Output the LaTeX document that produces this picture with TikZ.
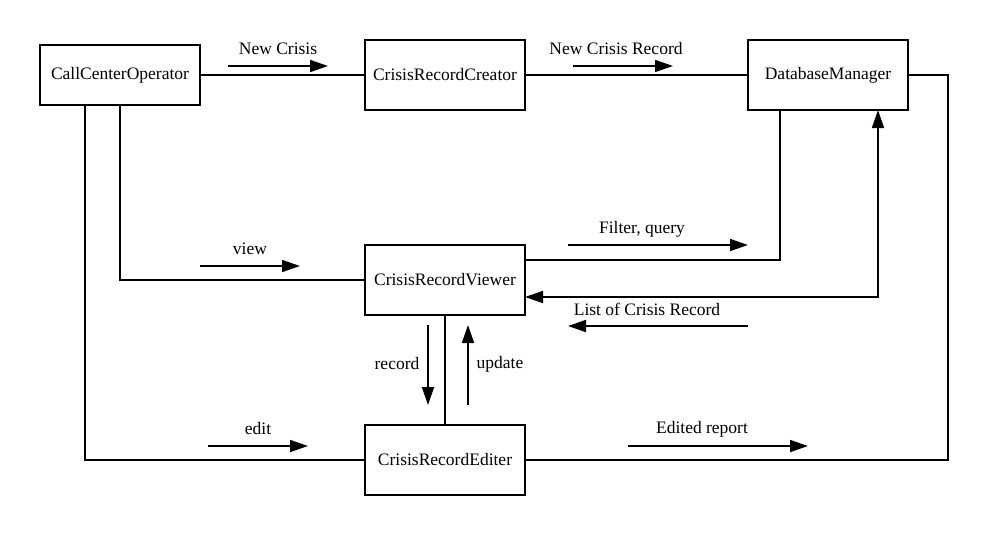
\documentclass[tikz,border=0pt]{standalone}
\usepackage{fontspec}
\setmainfont{Liberation Serif}
\usetikzlibrary{arrows.meta}
\begin{document}
\begin{tikzpicture}[x=1pt,y=-1pt,
  box/.style={draw,line width=1.6pt,minimum width=160pt,minimum height=70pt,inner sep=0pt,font=\fontsize{17.5}{20}\selectfont},
  wire/.style={line width=1.6pt},
  flow/.style={line width=1.6pt,-{Triangle[length=18pt,width=12pt]}},
  lbl/.style={font=\fontsize{17.5}{20}\selectfont,inner sep=0pt}]
\useasboundingbox (0,0) rectangle (989,536);
\node[box,minimum height=60pt] (cco) at (120,75) {CallCenterOperator};
\node[box] (crc) at (445,75) {CrisisRecordCreator};
\node[box] (dm) at (828,75) {DatabaseManager};
\node[box] (crv) at (445,280) {CrisisRecordViewer};
\node[box] (cre) at (445,460) {CrisisRecordEditer};
% connectors
\draw[wire] (cco.east) -- (crc.west);
\draw[wire] (crc.east) -- (dm.west);
\coordinate (r1) at (948,75);
\coordinate (r2) at (948,460);
\draw[wire] (dm.east) -- (r1) -- (r2) -- (cre.east);
\coordinate (v1) at (120,280);
\draw[wire] (cco.south) -- (v1) -- (crv.west);
\coordinate (e0) at (85,105);
\coordinate (e1) at (85,460);
\draw[wire] (e0) -- (e1) -- (cre.west);
\coordinate (f0) at (525,260);
\coordinate (f1) at (780,260);
\coordinate (f2) at (780,110);
\draw[wire] (f0) -- (f1) -- (f2);
\coordinate (l0) at (878,110);
\coordinate (l1) at (878,297);
\coordinate (l2) at (525,297);
\draw[wire,{Triangle[length=18pt,width=12pt]}-{Triangle[length=18pt,width=12pt]}] (l0) -- (l1) -- (l2);
\draw[wire] (crv.south) -- (cre.north);
% flow arrows
\coordinate (a1) at (228,66); \coordinate (b1) at (328,66);
\draw[flow] (a1) -- (b1);
\node[lbl] (t1) at (278,49) {New Crisis};
\coordinate (a2) at (573,66); \coordinate (b2) at (673,66);
\draw[flow] (a2) -- (b2);
\node[lbl] (t2) at (616,49) {New Crisis Record};
\coordinate (a3) at (568,245); \coordinate (b3) at (748,245);
\draw[flow] (a3) -- (b3);
\node[lbl] (t3) at (642,229) {Filter, query};
\coordinate (a4) at (200,266); \coordinate (b4) at (300,266);
\draw[flow] (a4) -- (b4);
\node[lbl] (t4) at (250,249) {view};
\coordinate (a5) at (748,326); \coordinate (b5) at (568,326);
\draw[flow] (a5) -- (b5);
\node[lbl] (t5) at (647,309) {List of Crisis Record};
\coordinate (a6) at (428,325); \coordinate (b6) at (428,405);
\draw[flow] (a6) -- (b6);
\node[lbl] (t6) at (397,364) {record};
\coordinate (a7) at (468,405); \coordinate (b7) at (468,325);
\draw[flow] (a7) -- (b7);
\node[lbl] (t7) at (500,364) {update};
\coordinate (a8) at (208,446); \coordinate (b8) at (308,446);
\draw[flow] (a8) -- (b8);
\node[lbl] (t8) at (258,429) {edit};
\coordinate (a9) at (628,446); \coordinate (b9) at (808,446);
\draw[flow] (a9) -- (b9);
\node[lbl] (t9) at (702,429) {Edited report};
\end{tikzpicture}
\end{document}
